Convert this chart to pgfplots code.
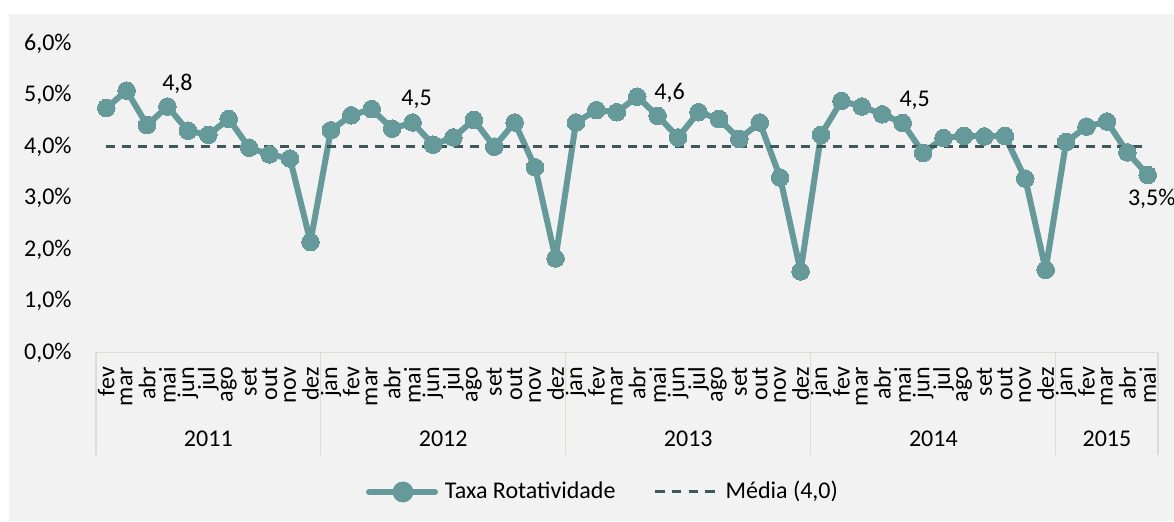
\documentclass[border=0pt]{standalone}
\usepackage{fontspec}
\setmainfont{Carlito}
\usepackage{pgfplots}
\pgfplotsset{compat=1.18}
\definecolor{teal1}{RGB}{102,153,153}
\definecolor{dash1}{RGB}{62,88,88}
\definecolor{bg}{RGB}{242,242,242}
\definecolor{axl}{RGB}{222,219,210}
\pgfplotstableread{
idx val
0 4.75
1 5.09
2 4.42
3 4.78
4 4.31
5 4.23
6 4.54
7 3.98
8 3.85
9 3.77
10 2.15
11 4.32
12 4.61
13 4.73
14 4.35
15 4.47
16 4.04
17 4.18
18 4.52
19 4.00
20 4.47
21 3.60
22 1.83
23 4.47
24 4.71
25 4.67
26 4.97
27 4.60
28 4.18
29 4.67
30 4.54
31 4.15
32 4.47
33 3.40
34 1.58
35 4.23
36 4.89
37 4.78
38 4.63
39 4.46
40 3.88
41 4.17
42 4.21
43 4.20
44 4.21
45 3.38
46 1.61
47 4.09
48 4.39
49 4.49
50 3.89
51 3.45
}\taxa
\begin{document}
\fontsize{12}{14.4}\selectfont
\begin{tikzpicture}
\useasboundingbox (0,0) rectangle (587pt,260.5pt);
\fill[bg] (4.5pt,0) rectangle (587pt,253.5pt);
\begin{axis}[
  at={(48pt,84.15pt)}, anchor=south west,
  scale only axis, width=531pt, height=154.5pt,
  xmin=-0.5, xmax=51.5, ymin=0, ymax=6,
  clip=false,
  axis x line*=bottom, axis y line*=left,
  axis line style={-},
  x axis line style={draw=axl, line width=0.6pt},
  y axis line style={draw=none},
  major tick length=0pt,
  xtick={0,...,51},
  xticklabels={fev,mar,abr,mai,jun,jul,ago,set,out,nov,dez,
    jan,fev,mar,abr,mai,jun,jul,ago,set,out,nov,dez,
    jan,fev,mar,abr,mai,jun,jul,ago,set,out,nov,dez,
    jan,fev,mar,abr,mai,jun,jul,ago,set,out,nov,dez,
    jan,fev,mar,abr,mai},
  xticklabel style={yshift=-7pt, rotate=90, anchor=east, inner sep=0pt},
  ytick={0,1,2,3,4,5,6},
  yticklabels={{0,0\%},{1,0\%},{2,0\%},{3,0\%},{4,0\%},{5,0\%},{6,0\%}},
  yticklabel style={anchor=east, inner sep=0pt, xshift=-12pt},
  legend style={at={(0.2514,-0.4508)}, anchor=west, draw=none, fill=none,
    inner sep=0pt, outer sep=0pt, legend columns=2,
    /tikz/every even column/.append style={column sep=16pt}},
  legend cell align=left,
]
\addplot[teal1, line width=3pt, line join=round, mark=*, mark size=4.4pt,
  mark options={fill=teal1, draw=teal1, line width=0pt},
  legend image code/.code={
    \path (0pt,0pt) (36pt,0pt);
    \draw[teal1, line width=3pt, line cap=round] (1.5pt,0pt) -- (34.5pt,0pt);
    \fill[teal1] (18.5pt,0pt) circle (3.7pt);}
] table[x=idx, y=val] {\taxa};
\addlegendentry{Taxa Rotatividade}
\addplot[dash1, line width=1.5pt, dash pattern=on 4.5pt off 3.4pt,
  legend image code/.code={
    \path (0pt,0pt) (33.5pt,0pt);
    \draw[dash1, line width=1.5pt, dash pattern=on 4.8pt off 3.6pt] (1pt,0pt) -- (32.5pt,0pt);}
] coordinates {(0,4) (51,4)};
\addlegendentry{Média (4,0)}
% category separators
\pgfplotsinvokeforeach{-0.5,10.5,22.5,34.5,46.5,51.5}{
  \draw[axl, line width=0.6pt] (axis cs:#1,0) -- ++(0pt,-51pt);
}
\node at (axis cs:5,0) [yshift=-43.15pt] {2011};
\node at (axis cs:16.5,0) [yshift=-43.15pt] {2012};
\node at (axis cs:28.5,0) [yshift=-43.15pt] {2013};
\node at (axis cs:40.5,0) [yshift=-43.15pt] {2014};
\node at (axis cs:49,0) [yshift=-43.15pt] {2015};
% data labels
\node at (axis cs:3,4.78) [xshift=5pt, yshift=11.5pt] {4,8};
\node at (axis cs:15,4.47) [xshift=2pt, yshift=11.5pt] {4,5};
\node at (axis cs:27,4.60) [xshift=6pt, yshift=11.5pt] {4,6};
\node at (axis cs:39,4.46) [xshift=6pt, yshift=11.5pt] {4,5};
\node at (axis cs:51,3.45) [xshift=2pt, yshift=-12pt] {3,5\%};
\end{axis}
\end{tikzpicture}
\end{document}
